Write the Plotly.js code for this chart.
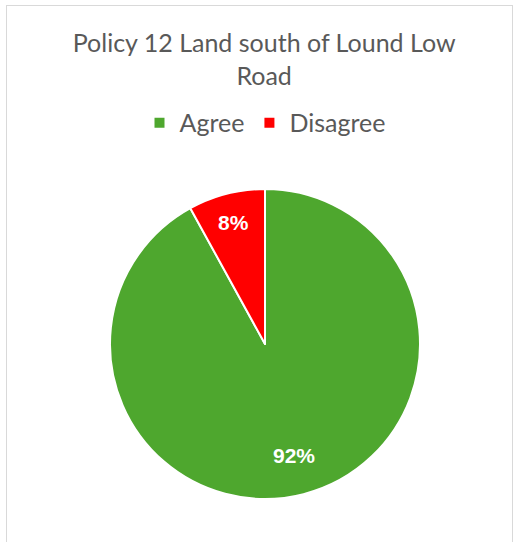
<!DOCTYPE html>
<html><head><meta charset="utf-8">
<script src="https://cdn.plot.ly/plotly-3.0.1.min.js"></script>
<style>
html,body{margin:0;padding:0;background:#fff;}
#frame{position:absolute;left:6px;top:5px;width:507px;height:545px;border:1px solid #d9d9d9;box-sizing:border-box;}
#chart{position:absolute;left:0;top:0;width:522px;height:542px;}
</style></head>
<body>
<div id="frame"></div>
<div id="chart"></div>
<script>
const categories = ["Agree", "Disagree"];
const values = [92, 8];
const colors = ["#4EA72E", "#FF0000"];
const labelRadius = [0.74, 0.81];
const titleText = "Policy 12 Land south of Lound Low<br>Road";

// label positions derived from the data (mid-angle of each slice, clockwise from top)
const total = values.reduce((a, b) => a + b, 0);
let cum = 0;
const annotations = values.map((v, i) => {
  const mid = (cum + v / 2) / total * 2 * Math.PI;
  cum += v;
  const r = 0.5 * labelRadius[i];
  return {
    xref: "paper", yref: "paper",
    x: 0.5 + r * Math.sin(mid), y: 0.5 + r * Math.cos(mid),
    text: Math.round(v / total * 100) + "%", showarrow: false,
    xanchor: "center", yanchor: "middle",
    font: {family: "Liberation Sans, Arial, sans-serif", size: 21, color: "#ffffff", weight: "bold"}
  };
});

Plotly.newPlot("chart", [{
  type: "pie",
  labels: categories,
  values: values,
  sort: false,
  direction: "clockwise",
  rotation: 0,
  marker: {colors: colors, line: {color: "#ffffff", width: 2}},
  textinfo: "none",
  hoverinfo: "label+percent"
}], {
  width: 522, height: 542,
  margin: {l: 110, r: 102, t: 189, b: 43},
  paper_bgcolor: "rgba(0,0,0,0)",
  plot_bgcolor: "rgba(0,0,0,0)",
  title: {text: titleText, x: 0.506, xanchor: "center", y: 0.904, yanchor: "middle", yref: "container",
          font: {family: "Lato, Open Sans, sans-serif", size: 25, color: "#595959"}},
  showlegend: true,
  legend: {orientation: "h", x: 0.5, xanchor: "center", y: 1.213, yanchor: "middle",
           font: {family: "Lato, Open Sans, sans-serif", size: 25, color: "#595959"}},
  annotations: annotations
}, {displayModeBar: false, staticPlot: true});
</script>
</body></html>
